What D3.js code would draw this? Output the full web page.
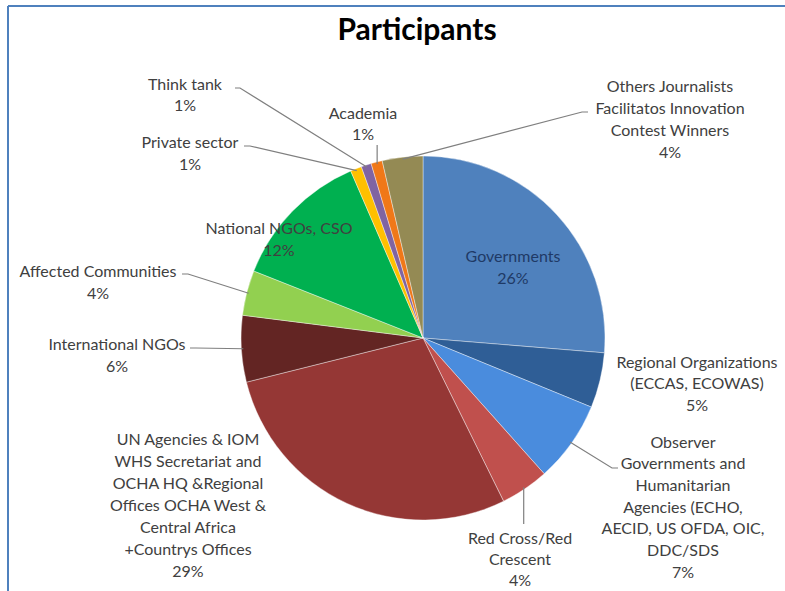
<!DOCTYPE html>
<html><head><meta charset="utf-8">
<script src="https://cdn.jsdelivr.net/npm/d3@7"></script>
<style>html,body{margin:0;padding:0;background:#fff;} svg{display:block;}</style>
</head><body>
<svg id="c" width="785" height="591"></svg>
<script>
// ---- data ----
const categories = ["Governments","Regional Organizations","Observer Governments","Red Cross/Red Crescent","UN Agencies","International NGOs","Affected Communities","National NGOs, CSO","Private sector","Think tank","Academia","Others"];
const values = [26.3, 4.9, 7.2, 4.3, 28.4, 5.9, 4.0, 12.5, 1.0, 0.9, 1.0, 3.6];
const pctLabels = ["26%","5%","7%","4%","29%","6%","4%","12%","1%","1%","1%","4%"];
const labelLines = [
  ["Governments"],
  ["Regional Organizations","(ECCAS, ECOWAS)"],
  ["Observer","Governments and","Humanitarian","Agencies (ECHO,","AECID, US OFDA, OIC,","DDC/SDS"],
  ["Red Cross/Red","Crescent"],
  ["UN Agencies & IOM","WHS Secretariat and","OCHA HQ &Regional","Offices OCHA West &","Central Africa","+Countrys Offices"],
  ["International NGOs"],
  ["Affected Communities"],
  ["National NGOs, CSO"],
  ["Private sector"],
  ["Think tank"],
  ["Academia"],
  ["Others Journalists","Facilitatos Innovation","Contest Winners"]
];
const colors = ["#4F81BD","#2F5E96","#4A8CDD","#C0504D","#953735","#632523","#92D050","#00B050","#FFC000","#8064A2","#F07818","#948A54"];

// ---- layout (positions, not data) ----
const cx = 423, cy = 338, R = 182;
const labelPos = [
  {x:513, y:256, lh:22, fill:"#1F3A66"},
  {x:697, y:362, lh:21.5},
  {x:683, y:442, lh:21.7},
  {x:520, y:538, lh:21},
  {x:188, y:439, lh:22},
  {x:117, y:344, lh:22},
  {x:98,  y:271, lh:22},
  {x:279, y:228, lh:22},
  {x:190, y:142, lh:22},
  {x:185, y:84,  lh:21},
  {x:363, y:113, lh:21},
  {x:670, y:86,  lh:22}
];
// leader elbows (null = no leader)
const leaders = [
  null, null,
  [[612,468],[618,468]],
  [[null,524]],
  null,
  [[196,348],[190,348]],
  [[188,274],[182,274]],
  null,
  [[250,146],[244,146]],
  [[240,88],[235,88]],
  [[null,145]],
  [[582,112],[588,112]]
];

const svg = d3.select("#c");
const font = "Lato, 'Open Sans', sans-serif";

// frame lines
svg.append("line").attr("x1",8).attr("y1",6).attr("x2",785).attr("y2",6).attr("stroke","#4F81BD").attr("stroke-width",2);
svg.append("line").attr("x1",8).attr("y1",6).attr("x2",8).attr("y2",591).attr("stroke","#4F81BD").attr("stroke-width",2);

// title
svg.append("text").attr("x",417).attr("y",40).attr("text-anchor","middle")
  .attr("font-family",font).attr("font-weight","bold").attr("font-size",30).attr("fill","#000")
  .text("Participants");

const data = categories.map((c,i)=>({name:c, value:values[i], i}));
const pie = d3.pie().value(d=>d.value).sort(null).startAngle(0).endAngle(2*Math.PI);
const arcs = pie(data);
const arc = d3.arc().innerRadius(0).outerRadius(R);

const g = svg.append("g").attr("transform",`translate(${cx},${cy})`);
g.selectAll("path").data(arcs).join("path")
  .attr("d",arc).attr("fill",d=>colors[d.data.i])
  .attr("stroke","#fff").attr("stroke-width",0.4);

// leader lines
arcs.forEach((a,i)=>{
  if(!leaders[i]) return;
  const m = (a.startAngle+a.endAngle)/2;
  const sx = cx + (R-2)*Math.sin(m), sy = cy - (R-2)*Math.cos(m);
  const pts = [[sx,sy]].concat(leaders[i].map(p=>[p[0]===null?sx:p[0], p[1]]));
  svg.append("path").attr("d",d3.line()(pts)).attr("fill","none")
    .attr("stroke","#7F7F7F").attr("stroke-width",1.2);
});

// labels
arcs.forEach((a,i)=>{
  const p = labelPos[i];
  const lines = labelLines[i].concat([pctLabels[i]]);
  const t = svg.append("text").attr("text-anchor","middle")
    .attr("font-family",font).attr("font-size",16).attr("fill",p.fill||"#404040");
  lines.forEach((l,k)=>{
    t.append("tspan").attr("x",p.x).attr("y",p.y + k*p.lh).attr("dy","0.35em").text(l);
  });
});
</script>
</body></html>
